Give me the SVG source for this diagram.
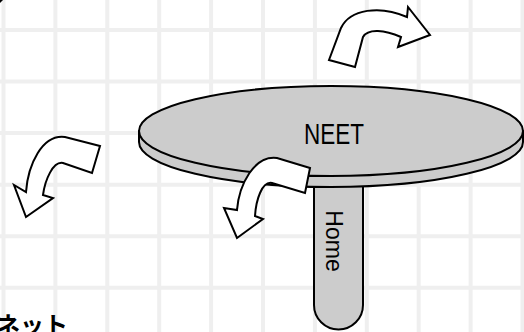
<svg xmlns="http://www.w3.org/2000/svg" width="524" height="332" viewBox="0 0 524 332">
  <style>
    .grid { stroke: #efefef; stroke-width: 4; fill: none; }
    .solid { fill: #cccccc; stroke: #000; stroke-width: 2; stroke-linejoin: round; }
    .arrow { fill: #ffffff; stroke: #000; stroke-width: 2; stroke-linejoin: miter; }
    .label { font-family: "Liberation Sans", Arial, sans-serif; fill: #000; }
  </style>

  <rect width="524" height="332" fill="#ffffff"/>

  <!-- background grid -->
  <path class="grid" d="M3.5 0V332 M55.4 0V332 M107.3 0V332 M159.2 0V332 M211.1 0V332 M263 0V332 M314.9 0V332 M366.8 0V332 M418.7 0V332 M470.6 0V332 M522.5 0V332
                        M0 30H524 M0 81.6H524 M0 133.1H524 M0 184.7H524 M0 236.2H524 M0 287.8H524"/>

  <!-- corner mark -->
  <path d="M0 0H3L0 3Z" fill="#000"/>

  <!-- Home: vertical pill hanging below the disk -->
  <g id="home">
    <path class="solid" d="M314 170V305A24.5 24.5 0 0 0 363 305V170Z"/>
    <text class="label" font-size="23" text-anchor="middle" dominant-baseline="central" transform="translate(334 241) rotate(90)">Home</text>
  </g>

  <!-- NEET: flat disk -->
  <g id="neet">
    <path class="solid" d="M139 131V142A192 45 0 0 0 523 142V131Z"/>
    <ellipse class="solid" cx="331" cy="131" rx="192" ry="45"/>
    <text class="label" x="334" y="144" font-size="30" text-anchor="middle" textLength="60" lengthAdjust="spacingAndGlyphs">NEET</text>
  </g>

  <!-- curved block arrows -->
  <g id="arrow-top">
    <path class="arrow" d="M329 60L341 28C350 9 380 5 407 17L408 7L430 35L398 47L401 37C385 30 368 28 363 37L355 67Z"/>
  </g>
  <g id="arrow-left">
    <path class="arrow" d="M100 146L92 173L63 163C53 161 45 180 43 195L53 198L26 217L14 185L26 192C28 165 42 134 65 137Z"/>
  </g>
  <g id="arrow-middle">
    <path class="arrow" d="M310 168L305 193L272 183C262 181 256 200 255 216L263 219L237 238L224 208L237 210C239 185 254 155 277 158Z"/>
  </g>

  <!-- caption at the lower edge -->
  <g id="net">
    <text x="-4" y="334" font-family="'Noto Sans CJK JP', sans-serif" font-weight="bold" font-size="24" fill="#000">ネット</text>
  </g>
</svg>
